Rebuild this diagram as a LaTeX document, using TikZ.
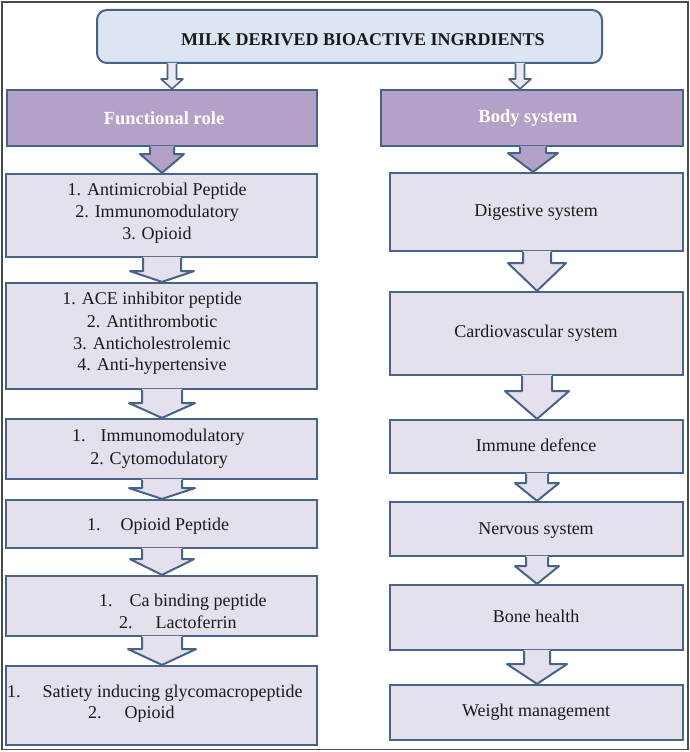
\documentclass[tikz,border=0pt]{standalone}
\usepackage{fontspec}
\setmainfont{Liberation Serif}
\usetikzlibrary{calc}
\definecolor{edgec}{HTML}{46648A}
\definecolor{boxfill}{HTML}{E5E0EC}
\definecolor{headfill}{HTML}{B3A2C7}
\definecolor{titlefill}{HTML}{DCE6F2}
\definecolor{smallfill}{HTML}{ECE8F2}
\definecolor{framec}{HTML}{4A4A4A}
\definecolor{txtc}{HTML}{1A1A1A}
\tikzset{
  lbox/.style={draw=edgec, line width=2.2pt, fill=boxfill, inner sep=0pt, minimum width=311pt},
  rbox/.style={draw=edgec, line width=2.2pt, fill=boxfill, inner sep=0pt, minimum width=293pt},
  hbox/.style={draw=edgec, line width=2.2pt, fill=headfill, inner sep=0pt, minimum height=56pt},
  txt/.style={font=\fontsize{18}{22}\selectfont, text=txtc, text height=12.6pt, text depth=3.6pt, inner sep=0pt},
  htxt/.style={font=\fontsize{18.5}{22}\selectfont\bfseries, text=white, text height=12.6pt, text depth=3.6pt, inner sep=0pt},
}
\newcommand{\blockarr}[8]{% #1 fill, #2 x, #3 from, #4 to, #5 shaft hw, #6 head hw, #7 shaft len, #8 line width
  \fill[#1] let \p1=(#3.south), \p2=(#4.north) in
    ({#2pt-#5pt},{\y1+1.2pt}) -- ({#2pt-#5pt},{\y1-#7pt}) -- ({#2pt-#6pt},{\y1-#7pt}) -- (#2pt,\y2)
    -- ({#2pt+#6pt},{\y1-#7pt}) -- ({#2pt+#5pt},{\y1-#7pt}) -- ({#2pt+#5pt},{\y1+1.2pt}) -- cycle;
  \draw[edgec, line width=#8, line join=round] let \p1=(#3.south), \p2=(#4.north) in
    ({#2pt-#5pt},\y1) -- ({#2pt-#5pt},{\y1-#7pt}) -- ({#2pt-#6pt},{\y1-#7pt}) -- (#2pt,\y2)
    -- ({#2pt+#6pt},{\y1-#7pt}) -- ({#2pt+#5pt},{\y1-#7pt}) -- ({#2pt+#5pt},\y1);
}
\begin{document}
\begin{tikzpicture}[x=1pt,y=-1pt]
\useasboundingbox (0,0) rectangle (690,752);
\fill[white] (0,0) rectangle (690,752);
\draw[framec, line width=1.5pt] (1.8,1.8) rectangle (688.2,749.5);

% title
\node[draw=edgec, line width=2pt, fill=titlefill, rounded corners=10pt, minimum width=505pt, minimum height=53pt, inner sep=0pt] (title) at (349.5,36.5) {};
\node[font=\fontsize{18}{22}\selectfont\bfseries, text=txtc, inner sep=0pt] (titletext) at (363,39.5) {MILK DERIVED BIOACTIVE INGRDIENTS};

% headers
\node[hbox, minimum width=310pt] (hl) at (162,118) {};
\node[hbox, minimum width=302pt] (hr) at (532,118) {};
\node[htxt] (hlt) at (164,120) {Functional role};
\node[htxt] (hrt) at (528,118) {Body system};

% left column boxes
\node[lbox, minimum height=83pt] (l1) at (161.5,215.5) {};
\node[lbox, minimum height=106pt] (l2) at (161.5,336) {};
\node[lbox, minimum height=60pt] (l3) at (161.5,449) {};
\node[lbox, minimum height=48pt] (l4) at (161.5,524) {};
\node[lbox, minimum height=60pt] (l5) at (161.5,606) {};
\node[lbox, minimum height=79pt] (l6) at (161.5,705.5) {};

% right column boxes
\node[rbox, minimum height=78pt] (r1) at (536.5,212) {};
\node[rbox, minimum height=83pt] (r2) at (536.5,333.5) {};
\node[rbox, minimum height=53pt] (r3) at (536.5,446.5) {};
\node[rbox, minimum height=54pt] (r4) at (536.5,529) {};
\node[rbox, minimum height=65pt] (r5) at (536.5,617.5) {};
\node[rbox, minimum height=55pt] (r6) at (536.5,712.5) {};

% small arrows from title
\blockarr{smallfill}{172}{title}{hl}{4.5}{11}{15}{1.6pt}
\blockarr{smallfill}{520}{title}{hr}{4.5}{11}{15}{1.6pt}

% arrows left
\blockarr{headfill}{162}{hl}{l1}{12}{22}{7}{2pt}
\blockarr{boxfill}{162}{l1}{l2}{19}{32}{13}{2pt}
\blockarr{boxfill}{162}{l2}{l3}{20}{33}{13}{2pt}
\blockarr{boxfill}{162}{l3}{l4}{20}{33}{8}{2pt}
\blockarr{boxfill}{162}{l4}{l5}{20}{32}{10}{2pt}
\blockarr{boxfill}{162}{l5}{l6}{20}{34}{12}{2pt}

% arrows right
\blockarr{headfill}{533}{hr}{r1}{13}{25}{6}{2pt}
\blockarr{boxfill}{537}{r1}{r2}{14}{29}{11}{2pt}
\blockarr{boxfill}{537}{r2}{r3}{15}{32}{15}{2pt}
\blockarr{boxfill}{537}{r3}{r4}{11}{22}{9}{2pt}
\blockarr{boxfill}{537}{r4}{r5}{11}{22}{9}{2pt}
\blockarr{boxfill}{537}{r5}{r6}{13}{30}{13}{2pt}

% left texts
\node[txt] (t11) at (157,191) {1. Antimicrobial Peptide};
\node[txt] (t12) at (157,213) {2. Immunomodulatory};
\node[txt] (t13) at (157,235) {3. Opioid};
\node[txt] (t21) at (152,300) {1. ACE inhibitor peptide};
\node[txt] (t22) at (152,323) {2. Antithrombotic};
\node[txt] (t23) at (152,345) {3. Anticholestrolemic};
\node[txt] (t24) at (152,366) {4. Anti-hypertensive};
\node[txt, anchor=west] (t31) at (72,437) {1.\hspace{15pt}Immunomodulatory};
\node[txt] (t32) at (159,460) {2. Cytomodulatory};
\node[txt, anchor=west] (t41) at (87,526) {1.\hspace{20pt}Opioid Peptide};
\node[txt, anchor=west] (t51) at (99,602) {1.\hspace{17pt}Ca binding peptide};
\node[txt, anchor=west] (t52) at (119,624) {2.\hspace{23pt}Lactoferrin};
\node[txt, anchor=west] (t61) at (7,693) {1.\hspace{22pt}Satiety inducing glycomacropeptide};
\node[txt, anchor=west] (t62) at (88,714) {2.\hspace{23pt}Opioid};

% right texts
\node[txt] (s1) at (536,212) {Digestive system};
\node[txt] (s2) at (536,333) {Cardiovascular system};
\node[txt] (s3) at (536,447) {Immune defence};
\node[txt] (s4) at (536,530) {Nervous system};
\node[txt] (s5) at (536,618) {Bone health};
\node[txt] (s6) at (536,712) {Weight management};
\end{tikzpicture}
\end{document}
